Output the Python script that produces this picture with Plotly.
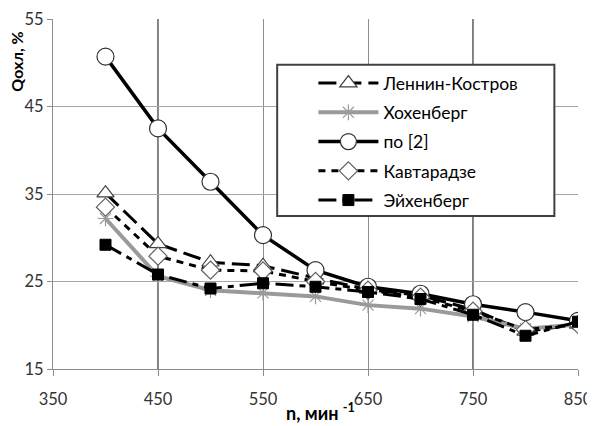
import plotly.graph_objects as go

n = [400, 450, 500, 550, 600, 650, 700, 750, 800, 850]
lennin_kostrov = [35.1, 29.3, 27.2, 26.8, 25.4, 24.1, 23.4, 21.8, 19.3, 20.1]
hohenberg = [32.2, 25.6, 24.0, 23.7, 23.3, 22.3, 21.9, 21.0, 19.6, 20.1]
po2 = [50.7, 42.5, 36.4, 30.3, 26.3, 24.4, 23.6, 22.4, 21.5, 20.5]
kavtaradze = [33.5, 27.9, 26.3, 26.2, 25.0, 24.0, 23.2, 21.6, 19.5, 20.1]
eichenberg = [29.2, 25.8, 24.2, 24.8, 24.4, 23.8, 23.0, 21.2, 18.8, 20.4]

x_ticks = [350, 450, 550, 650, 750, 850]
y_ticks = [15, 25, 35, 45, 55]

FONT = "Lato"

fig = go.Figure()

fig.add_trace(go.Scatter(
    x=n, y=lennin_kostrov, name="Леннин-Костров", legendgroup="a",
    mode="lines+markers",
    line=dict(color="black", width=3, dash="18px,7px"),
    marker=dict(symbol="triangle-up", size=15, color="white",
                line=dict(color="#404040", width=1.2)),
))
fig.add_trace(go.Scatter(
    x=n, y=hohenberg, name="Хохенберг", legendgroup="b",
    mode="lines+markers",
    line=dict(color="#9a9a9a", width=4),
    marker=dict(symbol="asterisk-open", size=13,
                line=dict(color="black", width=1.2)),
))
fig.add_trace(go.Scatter(
    x=n, y=po2, name="по [2]", legendgroup="c",
    mode="lines+markers",
    line=dict(color="black", width=3.5),
    marker=dict(symbol="circle", size=17, color="white",
                line=dict(color="#303030", width=1.2)),
))
fig.add_trace(go.Scatter(
    x=n, y=kavtaradze, name="Кавтарадзе", legendgroup="d",
    mode="lines+markers",
    line=dict(color="black", width=3, dash="7px,6px"),
    marker=dict(symbol="diamond", size=14, color="white",
                line=dict(color="#606060", width=1.2)),
))
fig.add_trace(go.Scatter(
    x=n, y=eichenberg, name="Эйхенберг", legendgroup="e",
    mode="lines+markers",
    line=dict(color="black", width=3, dash="18px,6px,6px,6px"),
    marker=dict(symbol="square", size=11, color="black",
                line=dict(color="black", width=1)),
))

# legend box
fig.add_shape(type="rect", xref="paper", yref="paper",
              x0=0.427, x1=0.955, y0=0.437, y1=0.869,
              fillcolor="white", line=dict(color="#404040", width=2),
              layer="above")

# darker vertical grid lines as in original
for xv in [450, 750]:
    fig.add_shape(type="line", xref="x", yref="paper", x0=xv, x1=xv, y0=0, y1=1,
                  line=dict(color="black", width=1), layer="below")

fig.add_annotation(text="<b>Qохл, %</b>", textangle=-90, xref="paper", yref="paper",
                   x=-0.0686, y=0.878, xanchor="center", yanchor="middle", showarrow=False,
                   font=dict(family=FONT, size=16, color="black"))
fig.add_annotation(text="<b>n, мин <sup>-1</sup></b>", xref="paper", yref="paper",
                   x=0.509, y=-0.124, xanchor="center", yanchor="middle", showarrow=False,
                   font=dict(family=FONT, size=18, color="black"))

# the page body adds an 8px offset, so the figure is 8px smaller and margins shifted
fig.update_layout(
    width=587, height=418,
    margin=dict(l=45, r=17, t=11, b=57, autoexpand=False),
    paper_bgcolor="white", plot_bgcolor="white",
    font=dict(family=FONT, size=16.5, color="#333333"),
    showlegend=True,
    legend=dict(x=0.496, y=0.868, xanchor="left", yanchor="top",
                bgcolor="rgba(0,0,0,0)", borderwidth=0,
                font=dict(family=FONT, size=17.5, color="black"),
                tracegroupgap=3.5, itemwidth=60),
    xaxis=dict(range=[350, 850], tickvals=x_ticks, ticktext=[str(v) for v in x_ticks],
               showgrid=True, gridcolor="#8c8c8c", gridwidth=1,
               showline=True, linecolor="#8c8c8c", linewidth=1,
               ticks="outside", ticklen=6, tickcolor="#8c8c8c",
               ticklabelstandoff=9, zeroline=False, automargin=False),
    yaxis=dict(range=[15, 55], tickvals=y_ticks, ticktext=[str(v) for v in y_ticks],
               showgrid=True, gridcolor="#a6a6a6", gridwidth=1,
               showline=True, linecolor="#8c8c8c", linewidth=1,
               ticks="outside", ticklen=5, tickcolor="#8c8c8c",
               zeroline=False, automargin=False),
)

fig.write_html("out.html")
